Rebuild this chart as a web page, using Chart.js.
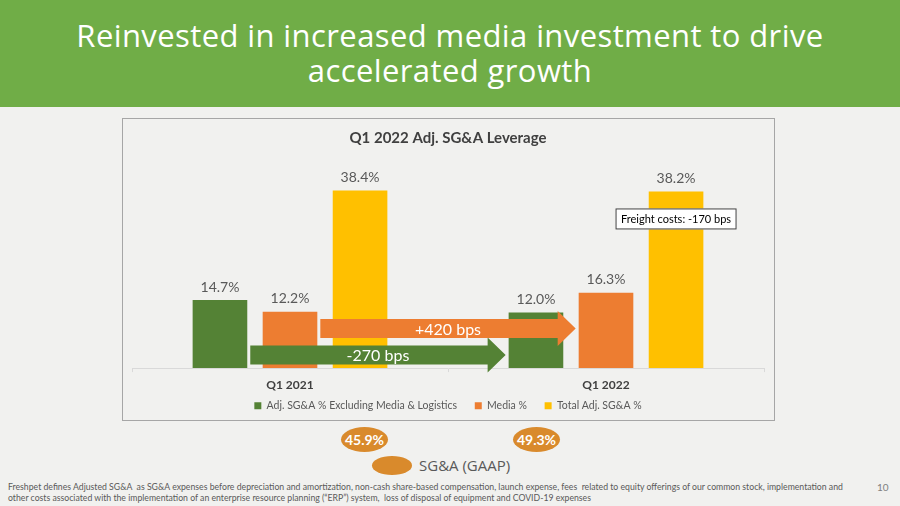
<!DOCTYPE html>
<html>
<head>
<meta charset="utf-8">
<script src="https://cdn.jsdelivr.net/npm/chart.js@4.4.0/dist/chart.umd.min.js"></script>
<style>
html, body { margin: 0; padding: 0; }
body { width: 900px; height: 506px; position: relative; overflow: hidden; background: #f1f1ef; font-family: Lato, sans-serif; }
#header { position: absolute; left: 0; top: 0; width: 900px; height: 107px; background: #70ad47; }
#header h1 { margin: 0; position: absolute; left: 0; right: 0; top: 18px; text-align: center; color: #fff;
  font: normal 31px/35px "Open Sans", sans-serif; letter-spacing: 0.4px; }
#box { position: absolute; left: 122px; top: 118px; width: 651px; height: 301px; border: 1px solid #a6a6a6; }
#chartWrap { position: absolute; left: 123px; top: 119px; width: 651px; height: 302px; }
.gaap { position: absolute; width: 47px; height: 25px; border-radius: 50%; background: #d98a2c; color: #fff;
  font: bold 14px/25px Lato, sans-serif; text-align: center; }
#gaapKey { position: absolute; left: 372px; top: 456px; width: 40px; height: 19px; border-radius: 50%; background: #d98a2c; }
#gaapText { position: absolute; left: 419px; top: 455px; font: 15px/20px "Open Sans", sans-serif; color: #595959; }
#foot { position: absolute; left: 8px; top: 482px; font: 8.7px/10.5px Lato, sans-serif; color: #595959; white-space: nowrap; }
#page { position: absolute; left: 877px; top: 481px; font: 10px Lato, sans-serif; color: #7f7f7f; }
</style>
</head>
<body>
<div id="header"><h1>Reinvested in increased media investment to drive<br>accelerated growth</h1></div>
<div id="box"></div>
<div id="chartWrap"><canvas id="leverageChart"></canvas></div>
<div id="gaapLayer"></div>
<div id="gaapKey"></div>
<div id="gaapText">SG&amp;A (GAAP)</div>
<div id="foot">Freshpet defines Adjusted SG&amp;A &nbsp;as SG&amp;A expenses before depreciation and amortization, non-cash share-based compensation, launch expense, fees &nbsp;related to equity offerings of our common stock, implementation and<br>other costs associated with the implementation of an enterprise resource planning (“ERP”) system, &nbsp;loss of disposal of equipment and COVID-19 expenses</div>
<div id="page">10</div>

<script>
// values
const quarters = ['Q1 2021', 'Q1 2022'];
const seriesNames = ['Adj. SG&A % Excluding Media & Logistics', 'Media %', 'Total Adj. SG&A %'];
const adjExMedia = [14.7, 12.0];
const mediaPct = [12.2, 16.3];
const totalAdj = [38.4, 38.2];
const changeLabels = ['-270 bps', '+420 bps'];   // adj. ex media, media
const gaapPct = [45.9, 49.3];
const freightNote = 'Freight costs: -170 bps';

const colors = ['#548235', '#ed7d31', '#ffc000'];

// GAAP ovals under the chart
const gaapLeft = [341, 513];
gaapPct.forEach(function(v, i) {
    const el = document.createElement('div');
    el.className = 'gaap';
    el.style.left = gaapLeft[i] + 'px';
    el.style.top = '427px';
    el.textContent = v.toFixed(1) + '%';
    document.getElementById('gaapLayer').appendChild(el);
});

// value labels on top of the bars
const valueLabels = {
    id: 'valueLabels',
    afterDatasetsDraw: function(chart) {
        const ctx = chart.ctx;
        ctx.save();
        ctx.font = '14px Lato';
        ctx.fillStyle = '#595959';
        ctx.textAlign = 'center';
        ctx.textBaseline = 'middle';
        chart.data.datasets.forEach(function(ds, i) {
            chart.getDatasetMeta(i).data.forEach(function(bar, j) {
                ctx.fillText(ds.data[j].toFixed(1) + '%', bar.x, bar.y - 13);
            });
        });
        ctx.restore();
    }
};

function drawArrow(ctx, x0, x1, yc, color, text) {
    const body = 9.5, head = 17.5, headLen = 18;
    ctx.fillStyle = color;
    ctx.beginPath();
    ctx.moveTo(x0, yc - body);
    ctx.lineTo(x1 - headLen, yc - body);
    ctx.lineTo(x1 - headLen, yc - head);
    ctx.lineTo(x1, yc);
    ctx.lineTo(x1 - headLen, yc + head);
    ctx.lineTo(x1 - headLen, yc + body);
    ctx.lineTo(x0, yc + body);
    ctx.closePath();
    ctx.fill();
    ctx.fillStyle = '#fff';
    ctx.font = '16px Lato';
    ctx.textAlign = 'center';
    ctx.textBaseline = 'middle';
    ctx.fillText(text, (x0 + x1) / 2, yc + 1);
}

// change arrows between the quarters and the freight note
const changeArrows = {
    id: 'changeArrows',
    afterDatasetsDraw: function(chart) {
        const ctx = chart.ctx;
        const bottom = chart.chartArea.bottom;
        ctx.save();
        [[0, 13], [1, 39.5]].forEach(function(a) {
            const bars = chart.getDatasetMeta(a[0]).data;
            drawArrow(ctx, bars[0].x + bars[0].width / 2 + 3, bars[1].x - bars[1].width / 2 - 3,
                bottom - a[1], colors[a[0]], changeLabels[a[0]]);
        });

        const last = chart.getDatasetMeta(2).data[1];
        const w = 121, h = 21, bx = last.x - w / 2, by = last.y + 17;
        ctx.fillStyle = '#fff';
        ctx.fillRect(bx, by, w, h);
        ctx.strokeStyle = '#404040';
        ctx.lineWidth = 1;
        ctx.strokeRect(bx + 0.5, by + 0.5, w - 1, h - 1);
        ctx.fillStyle = '#000';
        ctx.font = '11px Lato';
        ctx.textAlign = 'center';
        ctx.textBaseline = 'middle';
        ctx.fillText(freightNote, last.x, by + h / 2 + 0.5);
        ctx.restore();
    }
};

new Chart(document.getElementById('leverageChart'), {
    type: 'bar',
    data: {
        labels: quarters,
        datasets: [
            { label: seriesNames[0], data: adjExMedia, backgroundColor: colors[0] },
            { label: seriesNames[1], data: mediaPct, backgroundColor: colors[1] },
            { label: seriesNames[2], data: totalAdj, backgroundColor: colors[2] }
        ]
    },
    options: {
        responsive: true,
        maintainAspectRatio: false,
        animation: false,
        layout: { padding: { left: 9, right: 10, top: 0, bottom: 0 } },
        datasets: { bar: { categoryPercentage: 0.665, barPercentage: 0.78 } },
        scales: {
            x: {
                grid: { display: true, drawOnChartArea: false, drawTicks: true, tickLength: 4, offset: true, color: '#d9d9d9' },
                border: { color: '#d9d9d9' },
                ticks: { font: { family: 'Lato', size: 12, weight: 'bold' }, color: '#404040', padding: 6 }
            },
            y: { display: false, min: 0, max: 45 }
        },
        plugins: {
            title: {
                display: true,
                text: 'Q1 2022 Adj. SG&A Leverage',
                font: { family: 'Lato', size: 15, weight: 'bold' },
                color: '#404040',
                padding: { top: 10, bottom: 13 }
            },
            legend: {
                position: 'bottom',
                labels: {
                    boxWidth: 7, boxHeight: 7, padding: 2, color: '#595959',
                    font: { family: 'Lato', size: 10.5 },
                    // widen the gap between items without adding vertical padding
                    generateLabels: function(chart) {
                        const items = Chart.defaults.plugins.legend.labels.generateLabels(chart);
                        items.forEach(function(it, i) {
                            if (i < items.length - 1) it.text += '\u2002\u2002\u2002';
                        });
                        return items;
                    }
                }
            },
            tooltip: { enabled: false }
        }
    },
    plugins: [valueLabels, changeArrows]
});
</script>
</body>
</html>
